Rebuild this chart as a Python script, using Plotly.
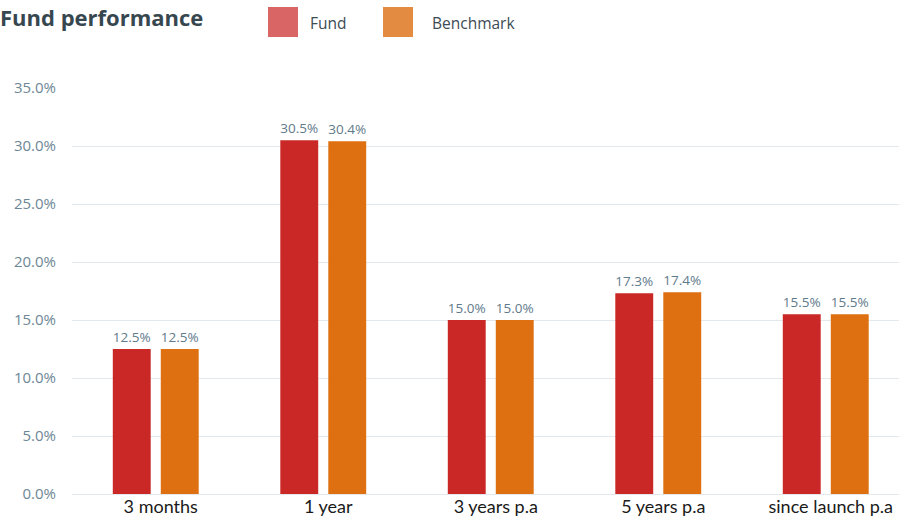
import plotly.graph_objects as go

categories = ["3 months", "1 year", "3 years p.a", "5 years p.a", "since launch p.a"]
fund = [12.5, 30.5, 15.0, 17.3, 15.5]
benchmark = [12.5, 30.4, 15.0, 17.4, 15.5]
y_ticks = [0, 5, 10, 15, 20, 25, 30, 35]
y_tick_text = [f"{v:.1f}%" for v in y_ticks]

FUND_COLOR = "#C92826"
BENCH_COLOR = "#DE7012"
LABEL_COLOR = "#5F7A8A"
FONT = "Lato, Carlito, sans-serif"
HEAD_FONT = "Open Sans, Noto Sans, sans-serif"

W, H = 901, 529
L, R, T, B = 72, 2, 88, 35
pw, ph = W - L - R, H - T - B
CAT_PX = 167.5  # pixel width of one category band (plot runs past right edge)

def px_x(x):
    return (x - L) / pw

def px_y(y):
    return (H - B - y) / ph

fig = go.Figure()
for name, vals, col in [("Fund", fund, FUND_COLOR), ("Benchmark", benchmark, BENCH_COLOR)]:
    fig.add_trace(go.Bar(
        name=name, x=categories, y=vals, marker_color=col, marker_line_width=0,
        texttemplate="%{y:.1f}%", textposition="outside",
        textfont=dict(color=LABEL_COLOR, size=14, family=HEAD_FONT),
        cliponaxis=False, showlegend=False,
    ))

shapes = []
annotations = [dict(text="<b>Fund performance</b>", xref="paper", yref="paper",
                    x=px_x(-2), y=px_y(17), xanchor="left", yanchor="middle",
                    showarrow=False, font=dict(size=22, color="#37474F", family=HEAD_FONT))]
for x0, tx, label, col in [(268, 310, "Fund", "#D96565"), (383, 432, "Benchmark", "#E48B42")]:
    shapes.append(dict(type="rect", xref="paper", yref="paper",
                       x0=px_x(x0), x1=px_x(x0 + 30), y0=px_y(37), y1=px_y(7),
                       fillcolor=col, line_width=0))
    annotations.append(dict(text=label, xref="paper", yref="paper",
                            x=px_x(tx - 2), y=px_y(23), xanchor="left", yanchor="middle",
                            showarrow=False, font=dict(size=15.5, color="#3D4B55", family=HEAD_FONT)))

fig.update_layout(
    width=W, height=H,
    margin=dict(l=L, r=R, t=T, b=B),
    plot_bgcolor="white", paper_bgcolor="white",
    barmode="group", bargap=0.427, bargroupgap=0.21,
    font=dict(family=FONT),
    shapes=shapes, annotations=annotations,
    xaxis=dict(range=[-0.5, -0.5 + pw / CAT_PX], showgrid=False, showline=False,
               ticks="", ticklabelshift=5,
               tickfont=dict(size=18, color="#1A1A1A", family=FONT)),
    yaxis=dict(range=[0, 35], tickvals=y_ticks, ticktext=y_tick_text,
               showgrid=True, gridcolor="#E3E8EC", gridwidth=1,
               zeroline=True, zerolinecolor="#E3E8EC", zerolinewidth=1,
               ticklabelstandoff=15,
               tickfont=dict(size=15, color="#6E8796", family=HEAD_FONT)),
)

fig.write_html("out.html", config={"displayModeBar": False},
               post_script="document.body.style.margin='0';")
